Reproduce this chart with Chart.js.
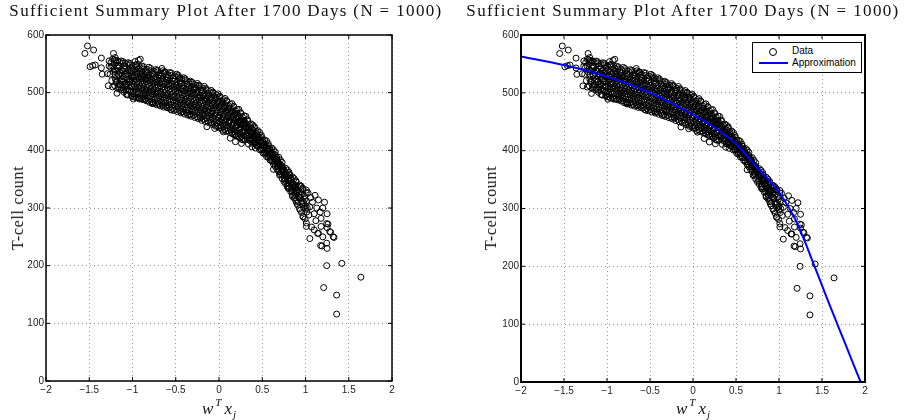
<!DOCTYPE html>
<html>
<head>
<meta charset="utf-8">
<script src="https://cdn.jsdelivr.net/npm/chart.js@4.4.0/dist/chart.umd.min.js"></script>
<style>
body{margin:0;background:#fff;width:916px;height:420px;position:relative;overflow:hidden}
canvas{position:absolute;top:0}
.title{position:absolute;top:1px;font:17px "Liberation Serif",serif;line-height:20px;white-space:nowrap;transform:translateX(-50%);color:#111}
.ylab{position:absolute;top:208px;font:16px "Liberation Serif",serif;line-height:18px;white-space:nowrap;transform:translate(-50%,-50%) rotate(-90deg);color:#111}
.xlab{position:absolute;top:392px;font:italic 17px "Liberation Serif",serif;line-height:20px;white-space:nowrap;transform:translateX(-50%);color:#111}
.xlab sup{font-size:11px;vertical-align:8px;margin-left:2px;margin-right:3px}
.xlab sub{font-size:11px;vertical-align:-4px;margin-left:1px}
.legend{position:absolute;left:752px;top:42px;width:108px;height:29px;border:1px solid #000;background:#fff;font:10px "Liberation Sans",sans-serif}
.legend .mk{position:absolute;left:16px;top:5px;width:6px;height:6px;border:1px solid #000;border-radius:50%}
.legend .ln{position:absolute;left:6px;top:19px;width:29px;height:2px;background:#0000ff}
.legend .tx{position:absolute;left:39px;line-height:12px}
</style>
</head>
<body>
<canvas id="left" width="458" height="420" style="left:0"></canvas>
<canvas id="right" width="458" height="420" style="left:458px"></canvas>

<div class="title fit" data-w="433" style="left:226px">Sufficient Summary Plot After 1700 Days (N = 1000)</div>
<div class="title fit" data-w="433" style="left:683px">Sufficient Summary Plot After 1700 Days (N = 1000)</div>
<div class="ylab fit" data-w="84" style="left:18px">T-cell count</div>
<div class="ylab fit" data-w="84" style="left:491px">T-cell count</div>
<div class="xlab" style="left:219px">w<sup>T</sup>x<sub>j</sub></div>
<div class="xlab" style="left:693px">w<sup>T</sup>x<sub>j</sub></div>
<div class="legend">
  <span class="mk"></span><span class="tx" style="top:2px">Data</span>
  <span class="ln"></span><span class="tx" style="top:14px">Approximation</span>
</div>

<script>
const xTicks = [-2, -1.5, -1, -0.5, 0, 0.5, 1, 1.5, 2]
const xTickLabels = ["\u22122", "\u22121.5", "\u22121", "\u22120.5", "0", "0.5", "1", "1.5", "2"]
const yTicks = [0, 100, 200, 300, 400, 500, 600]
const yTickLabels = ["0", "100", "200", "300", "400", "500", "600"]

// fitted curve (right panel)
const approxX = [-2, -1.5, -1, -0.5, 0, 0.25, 0.5, 0.75, 1, 1.1, 1.2, 1.3, 1.4, 1.5, 1.6, 1.7, 1.8, 1.9, 1.95]
const approxY = [563, 548, 528, 500, 462, 440, 411, 370, 328, 305, 278, 243, 205, 167, 129, 92, 55, 18, 0]

// sparse points
const outlierPoints = [
  [-1.55,568],[-1.52,581],[-1.45,574],[-1.49,545],[-1.46,547],[-1.43,548],[-1.36,560],[-1.36,543],
  [-1.35,532],[-1.29,533],[-1.22,568],[-1.25,552],[-1.23,558],[-1.20,561],[-1.17,555],[-1.27,546],
  [-1.16,546],[-1.20,539],[-1.16,513],[-1.18,499],[-1.10,505],[-1.07,497],[-1.07,516],[-0.97,554],
  [-0.93,556],[-0.91,558],[-0.92,489],[-0.99,489],[-0.86,490],[-0.88,528],[-0.77,481],[-0.76,483],
  [-0.70,531],[-0.66,542],[-0.62,536],[-0.60,522],[-0.64,479],[-0.55,470],[-0.45,525],[-0.43,467],
  [-0.34,461],[-0.29,506],[-0.22,458],[-0.14,441],[-0.05,438],[-0.035,490],[0.05,432],[0.13,421],
  [0.19,415],[0.26,412],[0.26,448],[0.01,476],[0.24,447],[0.42,412],[0.55,395]
]
const tailPoints = [
  [0.63,367],[0.67,383],[0.70,357],[0.74,366],[0.80,334],[0.81,349],[0.85,320],[0.82,357],
  [0.90,308],[0.94,296],[0.94,337],[0.975,285],[1.01,268],[1.01,331],[1.05,302],[1.05,247],
  [1.06,318],[1.07,267],[1.08,310],[1.10,290],[1.10,262],[1.11,322],[1.12,278],[1.13,300],
  [1.14,256],[1.15,314],[1.15,256],[1.17,293],[1.175,235],[1.18,282],[1.18,268],[1.19,234],
  [1.20,300],[1.20,250],[1.22,310],[1.245,273],[1.25,266],[1.25,290],[1.245,239],[1.25,230],
  [1.29,258],[1.28,259],[1.33,249],[1.32,250],[1.26,272],[1.245,200],[1.42,204],[1.64,180],
  [1.21,162],[1.36,149],[1.36,116]
]
// dense band, first pass
const bandPoints = [
  [-1.27,555],[-1.25,544],[-1.26,532],[-1.24,521],[-1.28,512],
  [-1.21,557],[-1.23,546],[-1.22,536],[-1.20,524],[-1.23,510],
  [-1.19,556],[-1.17,547],[-1.18,538],[-1.16,529],[-1.19,518],[-1.17,507],
  [-1.13,555],[-1.15,545],[-1.14,534],[-1.12,524],[-1.15,514],[-1.13,505],
  [-1.11,554],[-1.09,546],[-1.10,537],[-1.08,528],[-1.11,519],[-1.09,510],[-1.10,501],
  [-1.05,552],[-1.07,543],[-1.06,533],[-1.04,524],[-1.07,515],[-1.05,505],[-1.06,497],
  [-1.03,551],[-1.01,543],[-1.02,535],[-1.00,527],[-1.03,518],[-1.01,510],[-1.02,501],[-1.00,493],
  [-0.97,548],[-0.99,540],[-0.98,531],[-0.96,523],[-0.99,515],[-0.97,506],[-0.98,498],[-0.96,491],
  [-0.95,549],[-0.93,541],[-0.94,532],[-0.92,524],[-0.95,515],[-0.93,507],[-0.94,498],[-0.92,490],
  [-0.89,546],[-0.91,538],[-0.90,529],[-0.88,521],[-0.91,512],[-0.89,504],[-0.90,495],[-0.88,488],
  [-0.87,545],[-0.85,536],[-0.86,528],[-0.84,519],[-0.87,511],[-0.85,502],[-0.86,494],[-0.84,486],
  [-0.81,544],[-0.83,535],[-0.82,526],[-0.80,518],[-0.83,509],[-0.81,500],[-0.82,491],[-0.80,483],
  [-0.79,542],[-0.77,533],[-0.78,524],[-0.76,516],[-0.79,507],[-0.77,498],[-0.78,489],[-0.76,481],
  [-0.73,540],[-0.75,532],[-0.74,523],[-0.72,514],[-0.75,505],[-0.73,497],[-0.74,488],[-0.72,479],
  [-0.71,539],[-0.69,530],[-0.70,521],[-0.68,512],[-0.71,503],[-0.69,494],[-0.70,485],[-0.68,477],
  [-0.65,538],[-0.67,529],[-0.66,519],[-0.64,510],[-0.67,501],[-0.65,492],[-0.66,483],[-0.64,475],
  [-0.63,536],[-0.61,527],[-0.62,518],[-0.60,509],[-0.63,500],[-0.61,491],[-0.62,482],[-0.60,474],
  [-0.57,535],[-0.59,526],[-0.58,516],[-0.56,507],[-0.59,498],[-0.57,489],[-0.58,479],[-0.56,471],
  [-0.55,534],[-0.53,525],[-0.54,515],[-0.52,506],[-0.55,496],[-0.53,487],[-0.54,478],[-0.52,469],
  [-0.49,532],[-0.51,523],[-0.50,513],[-0.48,504],[-0.51,494],[-0.49,485],[-0.50,476],[-0.48,467],
  [-0.47,530],[-0.45,521],[-0.46,511],[-0.44,502],[-0.47,492],[-0.45,483],[-0.46,474],[-0.44,465],
  [-0.41,526],[-0.43,517],[-0.42,508],[-0.40,499],[-0.43,490],[-0.41,481],[-0.42,472],[-0.40,463],
  [-0.39,524],[-0.37,515],[-0.38,506],[-0.36,497],[-0.39,488],[-0.37,479],[-0.38,470],[-0.36,461],
  [-0.33,520],[-0.35,512],[-0.34,503],[-0.32,494],[-0.35,485],[-0.33,477],[-0.34,468],[-0.32,459],
  [-0.31,518],[-0.29,510],[-0.30,501],[-0.28,492],[-0.31,483],[-0.29,475],[-0.30,466],[-0.28,457],
  [-0.25,516],[-0.27,508],[-0.26,499],[-0.24,490],[-0.27,481],[-0.25,473],[-0.26,464],[-0.24,455],
  [-0.23,513],[-0.21,505],[-0.22,496],[-0.20,487],[-0.23,478],[-0.21,470],[-0.22,461],[-0.20,452],
  [-0.17,511],[-0.19,503],[-0.18,494],[-0.16,485],[-0.19,476],[-0.17,468],[-0.18,459],[-0.16,450],
  [-0.15,507],[-0.13,499],[-0.14,491],[-0.12,482],[-0.15,474],[-0.13,465],[-0.14,456],[-0.12,448],
  [-0.09,504],[-0.11,496],[-0.10,488],[-0.08,479],[-0.11,471],[-0.09,462],[-0.10,453],[-0.08,445],
  [-0.07,501],[-0.05,493],[-0.06,485],[-0.04,476],[-0.07,468],[-0.05,459],[-0.06,450],[-0.04,442],
  [-0.01,498],[-0.03,490],[-0.02,482],[0.00,473],[-0.03,465],[-0.01,456],[-0.02,447],[0.00,439],
  [0.01,494],[0.03,486],[0.02,478],[0.04,469],[0.01,461],[0.03,452],[0.02,443],[0.04,435],
  [0.07,490],[0.05,482],[0.06,474],[0.08,466],[0.05,458],[0.07,449],[0.06,441],[0.08,433],
  [0.09,486],[0.11,478],[0.10,470],[0.12,462],[0.09,455],[0.11,447],[0.10,439],[0.12,431],
  [0.15,481],[0.13,473],[0.14,466],[0.16,458],[0.13,451],[0.15,443],[0.14,435],[0.16,428],
  [0.17,476],[0.19,469],[0.18,461],[0.20,454],[0.17,447],[0.19,439],[0.18,432],[0.20,425],
  [0.23,471],[0.21,464],[0.22,457],[0.24,450],[0.21,443],[0.23,436],[0.22,429],[0.24,422],
  [0.25,465],[0.27,458],[0.26,451],[0.28,445],[0.25,438],[0.27,431],[0.26,424],[0.28,418],
  [0.31,459],[0.29,452],[0.30,445],[0.32,439],[0.29,432],[0.31,425],[0.30,418],
  [0.33,451],[0.35,445],[0.34,438],[0.36,432],[0.33,425],[0.35,418],[0.34,411],
  [0.39,444],[0.37,438],[0.38,432],[0.40,425],[0.37,419],[0.39,412],[0.38,406],
  [0.41,439],[0.43,433],[0.42,427],[0.44,421],[0.41,415],[0.43,409],[0.42,404],
  [0.47,431],[0.45,425],[0.46,419],[0.48,413],[0.45,407],[0.47,401],
  [0.49,423],[0.51,418],[0.50,412],[0.52,406],[0.49,401],[0.51,395],
  [0.55,416],[0.53,411],[0.54,405],[0.56,400],[0.53,394],[0.55,389],
  [0.57,408],[0.59,403],[0.58,398],[0.60,393],[0.57,388],[0.59,383],
  [0.63,401],[0.61,396],[0.62,391],[0.64,386],[0.61,381],[0.63,376],
  [0.65,392],[0.67,387],[0.66,382],[0.68,377],[0.65,372],[0.67,367],
  [0.71,383],[0.69,378],[0.70,373],[0.72,368],[0.69,363],[0.71,358],
  [0.73,373],[0.75,367],[0.74,362],[0.76,356],[0.73,351],[0.75,346],
  [0.79,366],[0.77,360],[0.78,354],[0.80,348],[0.77,342],[0.79,337],
  [0.81,359],[0.83,352],[0.82,346],[0.84,340],[0.81,334],[0.83,328],
  [0.87,351],[0.85,343],[0.86,336],[0.88,329],[0.85,322],[0.87,317],
  [0.89,345],[0.91,336],[0.90,328],[0.92,320],[0.89,312],[0.91,305],
  [0.95,338],[0.93,328],[0.94,318],[0.96,308],[0.93,299],
  [0.97,332],[0.99,320],[0.98,309],[1.00,298],[0.97,285],
  [1.03,326],[1.01,312],[1.02,300],[1.04,288],[1.01,274]
]
// dense band, in-between pass
const bandPoints2 = [
  [-1.19,552],[-1.21,541],[-1.20,531],[-1.185,520],[-1.205,512],
  [-1.15,553],[-1.17,543],[-1.16,532],[-1.145,521],[-1.165,510],
  [-1.11,551],[-1.13,540],[-1.12,530],[-1.105,519],[-1.125,508],
  [-1.07,550],[-1.09,541],[-1.08,532],[-1.065,523],[-1.085,514],[-1.075,505],
  [-1.03,548],[-1.05,539],[-1.04,530],[-1.025,521],[-1.045,512],[-1.035,503],[-1.055,496],
  [-0.99,546],[-1.01,537],[-1.00,529],[-0.985,520],[-1.005,511],[-0.995,502],[-1.015,495],
  [-0.95,545],[-0.97,536],[-0.96,527],[-0.945,519],[-0.965,510],[-0.955,502],[-0.975,493],
  [-0.91,543],[-0.93,535],[-0.92,526],[-0.905,518],[-0.925,509],[-0.915,500],[-0.935,492],
  [-0.87,541],[-0.89,533],[-0.88,524],[-0.865,516],[-0.885,507],[-0.875,499],[-0.895,490],
  [-0.83,540],[-0.85,531],[-0.84,523],[-0.825,514],[-0.845,505],[-0.835,497],[-0.855,488],
  [-0.79,538],[-0.81,530],[-0.80,521],[-0.785,512],[-0.805,503],[-0.795,494],[-0.815,486],
  [-0.75,537],[-0.77,528],[-0.76,519],[-0.745,510],[-0.765,502],[-0.755,493],[-0.775,484],
  [-0.71,536],[-0.73,527],[-0.72,518],[-0.705,509],[-0.725,500],[-0.715,491],[-0.735,482],
  [-0.67,534],[-0.69,525],[-0.68,516],[-0.665,507],[-0.685,498],[-0.675,489],[-0.695,480],
  [-0.63,533],[-0.65,524],[-0.64,515],[-0.625,505],[-0.645,496],[-0.635,487],[-0.655,478],
  [-0.59,531],[-0.61,522],[-0.60,513],[-0.585,504],[-0.605,495],[-0.595,486],[-0.615,477],
  [-0.55,530],[-0.57,521],[-0.56,512],[-0.545,502],[-0.565,493],[-0.555,484],[-0.575,474],
  [-0.51,529],[-0.53,520],[-0.52,510],[-0.505,501],[-0.525,492],[-0.515,482],[-0.535,473],
  [-0.47,527],[-0.49,518],[-0.48,508],[-0.465,499],[-0.485,490],[-0.475,480],[-0.495,471],
  [-0.43,524],[-0.45,515],[-0.44,506],[-0.425,496],[-0.445,487],[-0.435,478],[-0.455,469],
  [-0.39,521],[-0.41,512],[-0.40,503],[-0.385,494],[-0.405,485],[-0.395,476],[-0.415,467],
  [-0.35,518],[-0.37,509],[-0.36,500],[-0.345,491],[-0.365,483],[-0.355,474],[-0.375,465],
  [-0.31,515],[-0.33,507],[-0.32,498],[-0.305,489],[-0.325,480],[-0.315,471],[-0.335,463],
  [-0.27,513],[-0.29,505],[-0.28,496],[-0.265,487],[-0.285,478],[-0.275,469],[-0.295,461],
  [-0.23,511],[-0.25,502],[-0.24,493],[-0.225,484],[-0.245,476],[-0.235,467],[-0.255,458],
  [-0.19,508],[-0.21,500],[-0.20,491],[-0.185,482],[-0.205,473],[-0.195,464],[-0.215,456],
  [-0.15,505],[-0.17,497],[-0.16,488],[-0.145,479],[-0.165,471],[-0.155,462],[-0.175,454],
  [-0.11,502],[-0.13,494],[-0.12,485],[-0.105,476],[-0.125,468],[-0.115,459],[-0.135,451],
  [-0.07,499],[-0.09,491],[-0.08,482],[-0.065,473],[-0.085,465],[-0.075,456],[-0.095,448],
  [-0.03,496],[-0.05,488],[-0.04,479],[-0.025,470],[-0.045,462],[-0.035,453],[-0.055,445],
  [0.01,492],[-0.01,484],[0.00,476],[0.015,467],[-0.005,458],[0.005,450],[-0.015,442],
  [0.05,488],[0.03,480],[0.04,472],[0.055,463],[0.035,455],[0.045,447],[0.025,439],
  [0.09,485],[0.07,477],[0.08,469],[0.095,460],[0.075,452],[0.085,444],[0.065,436],
  [0.13,480],[0.11,473],[0.12,465],[0.135,457],[0.115,449],[0.125,441],[0.105,434],
  [0.17,476],[0.15,468],[0.16,461],[0.175,453],[0.155,445],[0.165,438],[0.145,430],
  [0.21,471],[0.19,464],[0.20,456],[0.215,449],[0.195,442],[0.205,434],[0.185,427],
  [0.25,465],[0.23,459],[0.24,452],[0.255,444],[0.235,437],[0.245,430],[0.225,424],
  [0.29,460],[0.27,453],[0.28,446],[0.295,440],[0.275,433],[0.285,426],[0.265,419],
  [0.33,453],[0.31,447],[0.32,440],[0.335,434],[0.315,428],[0.325,421],
  [0.37,446],[0.35,440],[0.36,434],[0.375,428],[0.355,422],[0.365,416],
  [0.41,441],[0.39,436],[0.40,430],[0.415,425],[0.395,419],[0.405,413],
  [0.45,434],[0.43,429],[0.44,424],[0.455,419],[0.435,414],[0.445,409],
  [0.49,426],[0.47,421],[0.48,417],[0.495,412],[0.475,407],[0.485,403],
  [0.53,418],[0.51,414],[0.52,410],[0.535,406],[0.515,401],[0.525,397],
  [0.57,411],[0.55,407],[0.56,403],[0.575,399],[0.555,395],[0.565,391],
  [0.61,404],[0.59,400],[0.60,396],[0.615,392],[0.595,388],[0.605,384],
  [0.65,397],[0.63,393],[0.64,389],[0.655,385],[0.635,381],[0.645,377],
  [0.69,388],[0.67,384],[0.68,380],[0.695,376],[0.675,372],[0.685,368],
  [0.73,379],[0.71,375],[0.72,371],[0.735,367],[0.715,363],[0.725,359],
  [0.77,369],[0.75,364],[0.76,360],[0.775,356],[0.755,352],[0.765,348],
  [0.81,362],[0.79,357],[0.80,352],[0.815,348],[0.795,343],[0.805,338],
  [0.85,354],[0.83,349],[0.84,344],[0.855,339],[0.835,334],[0.845,329],
  [0.89,347],[0.87,341],[0.88,335],[0.895,330],[0.875,324],[0.885,318],
  [0.93,340],[0.91,332],[0.92,325],[0.935,318],[0.915,311],
  [0.97,334],[0.95,323],[0.96,312],[0.975,302],[0.955,292],
  [1.01,327],[0.99,315],[1.00,304],[1.015,293],[0.995,281]
]

const tcellData = outlierPoints.concat(bandPoints, bandPoints2, tailPoints).map(p => ({x: p[0], y: p[1]}))
const approxData = approxX.map((x, i) => ({x: x, y: approxY[i]}))

const framePlugin = {
  id: "frame",
  afterDraw(chart, args, opts){
    const {ctx, chartArea: a, scales: {x, y}} = chart
    ctx.save()
    ctx.strokeStyle = "#000"
    ctx.lineWidth = 1
    ctx.beginPath()
    x.ticks.forEach(t => {
      const p = x.getPixelForValue(t.value)
      ctx.moveTo(p, a.bottom); ctx.lineTo(p, a.bottom - 4)
      ctx.moveTo(p, a.top); ctx.lineTo(p, a.top + 4)
    })
    y.ticks.forEach(t => {
      const p = y.getPixelForValue(t.value)
      ctx.moveTo(a.left, p); ctx.lineTo(a.left + 4, p)
      ctx.moveTo(a.right, p); ctx.lineTo(a.right - 4, p)
    })
    ctx.stroke()
    ctx.lineWidth = opts.width
    ctx.strokeRect(a.left, a.top, a.right - a.left, a.bottom - a.top)
    ctx.restore()
  }
}

const tickFont = {family: "Liberation Sans", size: 10}

function makeChart(id, box, withLine){
  const datasets = [{
    data: tcellData,
    order: 1,
    pointRadius: 3,
    pointBorderWidth: 1,
    pointBorderColor: "#000",
    pointBackgroundColor: "rgba(0,0,0,0)",
    pointHoverRadius: 3
  }]
  if(withLine){
    datasets.push({
      data: approxData,
      order: 0,
      showLine: true,
      borderColor: "#0000ff",
      borderWidth: 2,
      tension: 0.3,
      cubicInterpolationMode: "monotone",
      pointRadius: 0
    })
  }
  return new Chart(document.getElementById(id), {
    type: "scatter",
    data: {datasets},
    plugins: [framePlugin],
    options: {
      responsive: false,
      devicePixelRatio: 1,
      animation: false,
      events: [],
      layout: {padding: {left: 0, top: box.top, right: box.right, bottom: 0}},
      plugins: {legend: {display: false}, tooltip: {enabled: false}, frame: {width: box.frame}},
      scales: {
        x: {
          type: "linear", min: -2, max: 2,
          afterBuildTicks: s => { s.ticks = xTicks.map(v => ({value: v})) },
          afterFit: s => { s.height = box.xh },
          ticks: {callback: (v, i) => xTickLabels[i], font: tickFont, color: "#222", padding: 3, maxRotation: 0, autoSkip: false},
          grid: {color: "#9a9a9a", drawTicks: false},
          border: {display: false, dash: [1, 3]}
        },
        y: {
          type: "linear", min: 0, max: 600,
          afterBuildTicks: s => { s.ticks = yTicks.map(v => ({value: v})) },
          afterFit: s => { s.width = box.yw },
          ticks: {callback: (v, i) => yTickLabels[i], font: tickFont, color: "#222", padding: 2, autoSkip: false},
          grid: {color: "#9a9a9a", drawTicks: false},
          border: {display: false, dash: [1, 3]}
        }
      }
    }
  })
}

makeChart("left", {yw: 46, xh: 39, top: 35, right: 66, frame: 1.5}, false)
makeChart("right", {yw: 63, xh: 38, top: 35, right: 51, frame: 2}, true)

// stretch serif labels to the width they take in the picture
document.querySelectorAll(".fit").forEach(el => {
  const w = el.offsetWidth
  const n = el.textContent.length
  el.style.letterSpacing = ((+el.dataset.w - w) / n) + "px"
})
</script>
</body>
</html>
